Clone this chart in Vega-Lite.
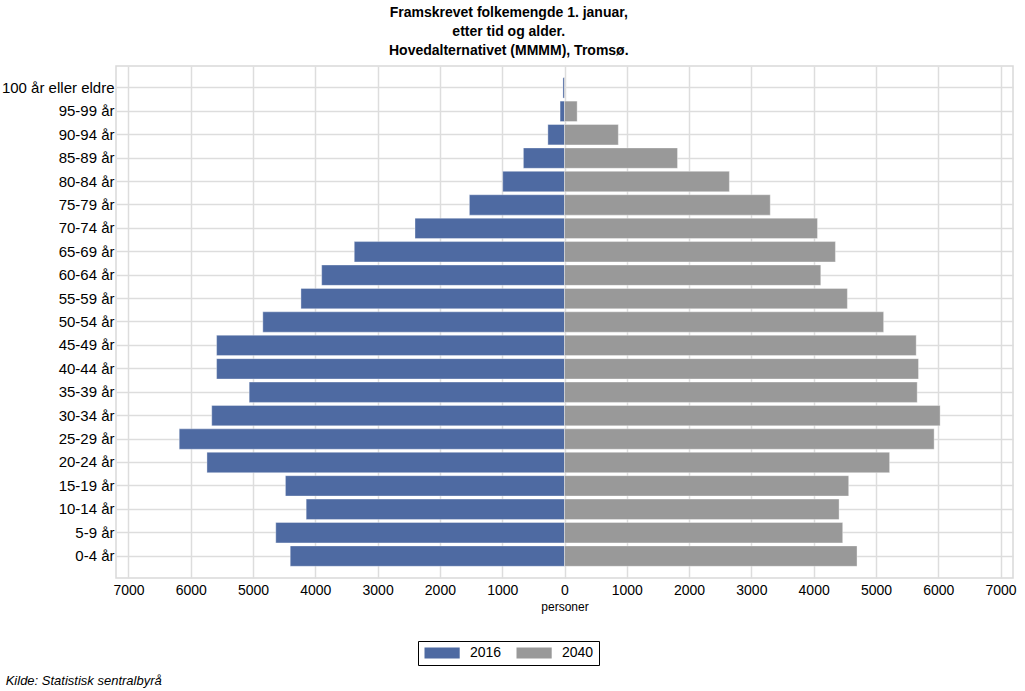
{
  "$schema": "https://vega.github.io/schema/vega-lite/v6.json",
  "background": "white",
  "padding": {"top": 5, "left": 0, "right": 0, "bottom": 0},
  "config": {
    "font": "Liberation Sans, Arial, sans-serif",
    "view": {"stroke": "#d9d9d9", "strokeWidth": 1.5}
  },
  "title": {
    "text": "Kilde: Statistisk sentralbyrå",
    "orient": "bottom",
    "anchor": "start",
    "frame": "bounds",
    "fontStyle": "italic",
    "fontWeight": "normal",
    "fontSize": 13,
    "font": "Liberation Sans, Arial, sans-serif",
    "color": "#000000",
    "offset": 9,
    "dx": 5
  },
  "vconcat": [
    {
      "title": {
        "text": ["Framskrevet folkemengde 1. januar,", "etter tid og alder.", "Hovedalternativet (MMMM), Tromsø."],
        "anchor": "middle",
        "frame": "bounds",
        "fontSize": 14,
        "fontWeight": "bold",
        "lineHeight": 19,
        "color": "#000000",
        "offset": 8
      },
      "width": 897,
      "height": 512,
      "data": {
        "values": [
          {"alder": "100 år eller eldre", "år": "2016", "personer": -25},
          {"alder": "100 år eller eldre", "år": "2040", "personer": 10},
          {"alder": "95-99 år", "år": "2016", "personer": -71},
          {"alder": "95-99 år", "år": "2040", "personer": 203},
          {"alder": "90-94 år", "år": "2016", "personer": -267},
          {"alder": "90-94 år", "år": "2040", "personer": 864},
          {"alder": "85-89 år", "år": "2016", "personer": -660},
          {"alder": "85-89 år", "år": "2040", "personer": 1814},
          {"alder": "80-84 år", "år": "2016", "personer": -992},
          {"alder": "80-84 år", "år": "2040", "personer": 2647},
          {"alder": "75-79 år", "år": "2016", "personer": -1527},
          {"alder": "75-79 år", "år": "2040", "personer": 3303},
          {"alder": "70-74 år", "år": "2016", "personer": -2400},
          {"alder": "70-74 år", "år": "2040", "personer": 4061},
          {"alder": "65-69 år", "år": "2016", "personer": -3375},
          {"alder": "65-69 år", "år": "2040", "personer": 4349},
          {"alder": "60-64 år", "år": "2016", "personer": -3898},
          {"alder": "60-64 år", "år": "2040", "personer": 4114},
          {"alder": "55-59 år", "år": "2016", "personer": -4231},
          {"alder": "55-59 år", "år": "2040", "personer": 4541},
          {"alder": "50-54 år", "år": "2016", "personer": -4843},
          {"alder": "50-54 år", "år": "2040", "personer": 5123},
          {"alder": "45-49 år", "år": "2016", "personer": -5585},
          {"alder": "45-49 år", "år": "2040", "personer": 5646},
          {"alder": "40-44 år", "år": "2016", "personer": -5585},
          {"alder": "40-44 år", "år": "2040", "personer": 5683},
          {"alder": "35-39 år", "år": "2016", "personer": -5062},
          {"alder": "35-39 år", "år": "2040", "personer": 5662},
          {"alder": "30-34 år", "år": "2016", "personer": -5663},
          {"alder": "30-34 år", "år": "2040", "personer": 6030},
          {"alder": "25-29 år", "år": "2016", "personer": -6185},
          {"alder": "25-29 år", "år": "2040", "personer": 5934},
          {"alder": "20-24 år", "år": "2016", "personer": -5740},
          {"alder": "20-24 år", "år": "2040", "personer": 5219},
          {"alder": "15-19 år", "år": "2016", "personer": -4480},
          {"alder": "15-19 år", "år": "2040", "personer": 4562},
          {"alder": "10-14 år", "år": "2016", "personer": -4147},
          {"alder": "10-14 år", "år": "2040", "personer": 4408},
          {"alder": "5-9 år", "år": "2016", "personer": -4635},
          {"alder": "5-9 år", "år": "2040", "personer": 4466},
          {"alder": "0-4 år", "år": "2016", "personer": -4403},
          {"alder": "0-4 år", "år": "2040", "personer": 4696}
        ]
      },
      "mark": {"type": "bar", "stroke": "#ffffff", "strokeOpacity": 0.35, "strokeWidth": 1},
      "encoding": {
        "y": {
          "field": "alder",
          "type": "nominal",
          "sort": null,
          "scale": {"paddingInner": 0.13, "paddingOuter": 0.5},
          "axis": {
            "title": null,
            "ticks": false,
            "domain": false,
            "grid": true,
            "tickBand": "center",
            "gridColor": "#dddddd",
            "gridWidth": 1.5,
            "labelPadding": 2,
            "labelFontSize": 15,
            "labelColor": "#000000",
            "labelLimit": 200
          }
        },
        "x": {
          "field": "personer",
          "type": "quantitative",
          "stack": null,
          "scale": {"domain": [-7200, 7200], "nice": false, "zero": false},
          "axis": {
            "values": [-7000, -6000, -5000, -4000, -3000, -2000, -1000, 0, 1000, 2000, 3000, 4000, 5000, 6000, 7000],
            "labelExpr": "format(abs(datum.value), 'd')",
            "title": "personer",
            "titleFontSize": 12,
            "titleFontWeight": "normal",
            "titleColor": "#000000",
            "titlePadding": 4,
            "ticks": false,
            "domain": false,
            "gridColor": "#dddddd",
            "gridWidth": 1.5,
            "labelPadding": 5,
            "labelFontSize": 14,
            "labelColor": "#000000",
            "labelFlush": false
          }
        },
        "color": {
          "field": "år",
          "type": "nominal",
          "scale": {"domain": ["2016", "2040"], "range": ["#4e6aa2", "#999999"]},
          "legend": {
            "title": null,
            "orient": "none",
            "legendX": 302,
            "legendY": 575,
            "direction": "horizontal",
            "strokeColor": "#000000",
            "fillColor": "#ffffff",
            "padding": 5,
            "symbolType": "M-1,-1H5.4V1H-1Z",
            "symbolSize": 121,
            "symbolStrokeWidth": 0,
            "symbolOpacity": 1,
            "labelFontSize": 14,
            "labelColor": "#000000",
            "columnPadding": 13,
            "labelOffset": 33
          }
        }
      }
    }
  ]
}
